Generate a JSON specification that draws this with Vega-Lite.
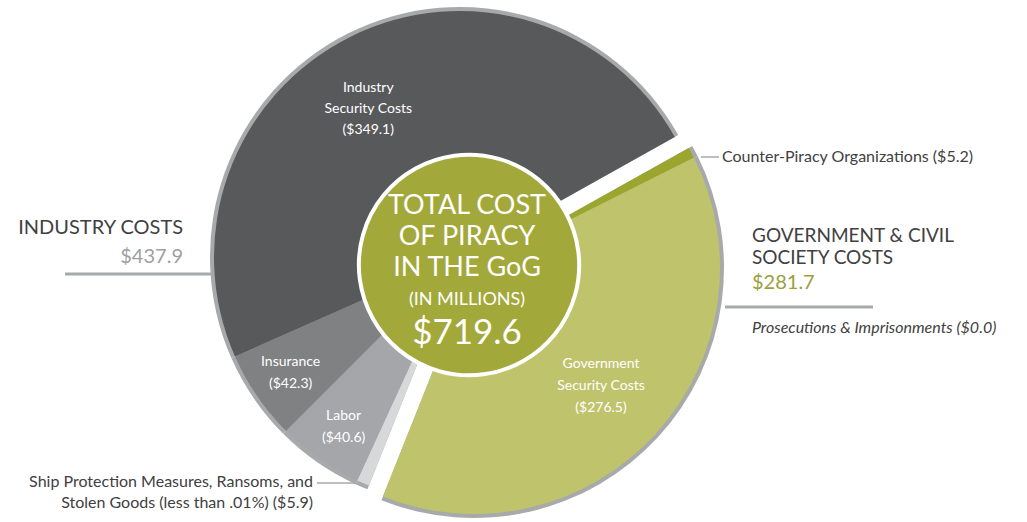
{
  "$schema": "https://vega.github.io/schema/vega-lite/v6.json",
  "width": 934,
  "height": 522,
  "autosize": {"type": "none"},
  "padding": {"left": 0, "top": 0, "right": 93, "bottom": 0},
  "background": "white",
  "config": {"view": {"stroke": null}, "font": "Lato", "text": {"font": "Lato"}},
  "data": {
    "values": [
      {"category": "Counter-Piracy Organizations", "group": "Government", "groupLabel": "GOVERNMENT & CIVIL\nSOCIETY COSTS", "value": 5.2, "order": 1, "label": "Counter-Piracy Organizations ($5.2)"},
      {"category": "Government Security Costs", "group": "Government", "groupLabel": "GOVERNMENT & CIVIL\nSOCIETY COSTS", "value": 276.5, "order": 2, "label": "Government\nSecurity Costs\n($276.5)"},
      {"category": "Prosecutions & Imprisonments", "group": "Government", "groupLabel": "GOVERNMENT & CIVIL\nSOCIETY COSTS", "value": 0.0, "order": 3, "label": "Prosecutions & Imprisonments ($0.0)"},
      {"category": "Ship Protection Measures, Ransoms, and Stolen Goods", "group": "Industry", "groupLabel": "INDUSTRY COSTS", "value": 5.9, "order": 4, "label": "Ship Protection Measures, Ransoms, and\nStolen Goods (less than .01%) ($5.9)"},
      {"category": "Labor", "group": "Industry", "groupLabel": "INDUSTRY COSTS", "value": 40.6, "order": 5, "label": "Labor\n($40.6)"},
      {"category": "Insurance", "group": "Industry", "groupLabel": "INDUSTRY COSTS", "value": 42.3, "order": 6, "label": "Insurance\n($42.3)"},
      {"category": "Industry Security Costs", "group": "Industry", "groupLabel": "INDUSTRY COSTS", "value": 349.1, "order": 7, "label": "Industry\nSecurity Costs\n($349.1)"}
    ]
  },
  "transform": [
    {"stack": "value", "groupby": [], "sort": [{"field": "order", "order": "ascending"}], "as": ["v0", "v1"]}
  ],
  "layer": [
    {
      "transform": [{"filter": "datum.group === 'Industry'"}],
      "mark": {"type": "arc", "radius": 250, "xOffset": -7, "yOffset": -4, "fill": "#a8a9ab"},
      "encoding": {
        "theta": {"field": "v0", "type": "quantitative", "scale": {"domain": [0, 719.6], "range": [1.0612, 7.3444]}},
        "theta2": {"field": "v1"}
      }
    },
    {
      "transform": [{"filter": "datum.group === 'Government'"}],
      "mark": {"type": "arc", "radius": 250, "xOffset": 7, "yOffset": 7, "fill": "#a8a9ab"},
      "encoding": {
        "theta": {"field": "v0", "type": "quantitative", "scale": {"domain": [0, 719.6], "range": [1.0612, 7.3444]}},
        "theta2": {"field": "v1"}
      }
    },
    {
      "transform": [{"filter": "datum.group === 'Industry'"}],
      "mark": {"type": "arc", "radius": 246, "xOffset": -7, "yOffset": -4},
      "encoding": {
        "theta": {"field": "v0", "type": "quantitative", "scale": {"domain": [0, 719.6], "range": [1.0612, 7.3444]}},
        "theta2": {"field": "v1"},
        "color": {"field": "category", "type": "nominal", "legend": null,
          "scale": {"domain": ["Counter-Piracy Organizations", "Government Security Costs", "Prosecutions & Imprisonments", "Ship Protection Measures, Ransoms, and Stolen Goods", "Labor", "Insurance", "Industry Security Costs"],
                    "range": ["#9ba62e", "#bfc46c", "#7d8a2e", "#d7d8da", "#a5a6a9", "#808183", "#58595b"]}}
      }
    },
    {
      "transform": [{"filter": "datum.group === 'Government'"}],
      "mark": {"type": "arc", "radius": 246, "xOffset": 7, "yOffset": 7},
      "encoding": {
        "theta": {"field": "v0", "type": "quantitative", "scale": {"domain": [0, 719.6], "range": [1.0612, 7.3444]}},
        "theta2": {"field": "v1"},
        "color": {"field": "category", "type": "nominal", "legend": null}
      }
    },
    {
      "transform": [{"aggregate": [{"op": "sum", "field": "value", "as": "total"}]}],
      "mark": {"type": "arc", "radius": 110, "xOffset": 2, "yOffset": 4, "fill": "#a3a83a", "stroke": "white", "strokeWidth": 4},
      "encoding": {
        "theta": {"field": "total", "type": "quantitative", "scale": {"domain": [0, 719.6], "range": [1.0612, 7.3444]}}
      }
    },
    {
      "transform": [{"aggregate": [{"op": "sum", "field": "value", "as": "total"}]}],
      "mark": {"type": "text", "text": ["TOTAL COST", "OF PIRACY", "IN THE GoG"], "fontSize": 27, "lineHeight": 31, "dy": -55, "color": "white", "align": "center", "baseline": "middle"},
      "encoding": {}
    },
    {
      "transform": [{"aggregate": [{"op": "sum", "field": "value", "as": "total"}]}],
      "mark": {"type": "text", "text": "(IN MILLIONS)", "fontSize": 18, "dy": 39, "color": "white", "align": "center", "baseline": "middle"},
      "encoding": {}
    },
    {
      "transform": [{"aggregate": [{"op": "sum", "field": "value", "as": "total"}]}],
      "mark": {"type": "text", "fontSize": 35, "dy": 72, "color": "white", "align": "center", "baseline": "middle"},
      "encoding": {"text": {"field": "total", "type": "quantitative", "format": "$.1f"}}
    },
    {
      "mark": {"type": "text", "radius": 185, "thetaOffset": -0.1, "dy": -17, "fontSize": 14, "lineHeight": 21, "lineBreak": "\n", "color": "white", "align": "center", "baseline": "middle"},
      "encoding": {
        "theta": {"field": "value", "type": "quantitative", "stack": true, "scale": {"domain": [0, 719.6], "range": [1.0612, 7.3444]}},
        "order": {"field": "order", "type": "quantitative"},
        "text": {"condition": {"test": "datum.category !== 'Industry Security Costs'", "value": ""}, "field": "label"}
      }
    },
    {
      "mark": {"type": "text", "radius": 182, "dy": -20, "fontSize": 14, "lineHeight": 22, "lineBreak": "\n", "color": "white", "align": "center", "baseline": "middle"},
      "encoding": {
        "theta": {"field": "value", "type": "quantitative", "stack": true, "scale": {"domain": [0, 719.6], "range": [1.0612, 7.3444]}},
        "order": {"field": "order", "type": "quantitative"},
        "text": {"condition": {"test": "datum.category !== 'Government Security Costs'", "value": ""}, "field": "label"}
      }
    },
    {
      "mark": {"type": "text", "radius": 209, "xOffset": -4, "yOffset": -4, "dy": -13, "fontSize": 14, "lineHeight": 22, "lineBreak": "\n", "color": "white", "align": "center", "baseline": "middle"},
      "encoding": {
        "theta": {"field": "value", "type": "quantitative", "stack": true, "scale": {"domain": [0, 719.6], "range": [1.0612, 7.3444]}},
        "order": {"field": "order", "type": "quantitative"},
        "text": {"condition": {"test": "datum.category !== 'Labor' && datum.category !== 'Insurance'", "value": ""}, "field": "label"}
      }
    },
    {
      "transform": [{"filter": "datum.category === 'Counter-Piracy Organizations'"}],
      "mark": {"type": "text", "align": "left", "baseline": "middle", "dx": 255, "dy": -104, "fontSize": 16, "color": "#414042"},
      "encoding": {"text": {"field": "label"}}
    },
    {
      "transform": [{"filter": "datum.category === 'Ship Protection Measures, Ransoms, and Stolen Goods'"}],
      "mark": {"type": "text", "align": "right", "baseline": "middle", "dx": -154, "dy": 221, "fontSize": 16, "lineHeight": 21, "lineBreak": "\n", "color": "#414042"},
      "encoding": {"text": {"field": "label"}}
    },
    {
      "transform": [{"filter": "datum.category === 'Prosecutions & Imprisonments'"}],
      "mark": {"type": "text", "align": "left", "baseline": "middle", "dx": 285, "dy": 67, "fontSize": 16, "fontStyle": "italic", "color": "#414042"},
      "encoding": {"text": {"field": "label"}}
    },
    {
      "transform": [
        {"aggregate": [{"op": "sum", "field": "value", "as": "total"}], "groupby": ["group", "groupLabel"]},
        {"filter": "datum.group === 'Industry'"}
      ],
      "mark": {"type": "text", "align": "right", "baseline": "middle", "dx": -284, "dy": -33, "fontSize": 20, "color": "#414042"},
      "encoding": {"text": {"field": "groupLabel"}}
    },
    {
      "transform": [
        {"aggregate": [{"op": "sum", "field": "value", "as": "total"}], "groupby": ["group", "groupLabel"]},
        {"filter": "datum.group === 'Industry'"}
      ],
      "mark": {"type": "text", "align": "right", "baseline": "middle", "dx": -284, "dy": -4, "fontSize": 20, "color": "#9d9fa2"},
      "encoding": {"text": {"field": "total", "type": "quantitative", "format": "$.1f"}}
    },
    {
      "transform": [
        {"aggregate": [{"op": "sum", "field": "value", "as": "total"}], "groupby": ["group", "groupLabel"]},
        {"filter": "datum.group === 'Government'"}
      ],
      "mark": {"type": "text", "align": "left", "baseline": "middle", "dx": 285, "dy": -25, "fontSize": 19, "lineHeight": 22, "lineBreak": "\n", "color": "#414042"},
      "encoding": {"text": {"field": "groupLabel"}}
    },
    {
      "transform": [
        {"aggregate": [{"op": "sum", "field": "value", "as": "total"}], "groupby": ["group", "groupLabel"]},
        {"filter": "datum.group === 'Government'"}
      ],
      "mark": {"type": "text", "align": "left", "baseline": "middle", "dx": 285, "dy": 22, "fontSize": 20, "color": "#9aa13a"},
      "encoding": {"text": {"field": "total", "type": "quantitative", "format": "$.1f"}}
    },
    {
      "transform": [{"filter": "datum.category === 'Industry Security Costs'"}],
      "mark": {"type": "arc", "theta": 4.71239, "theta2": 4.71239, "radius": 402, "radius2": 254, "yOffset": 13, "filled": false, "color": "#a7a9ac", "strokeWidth": 3},
      "encoding": {}
    },
    {
      "transform": [{"filter": "datum.category === 'Government Security Costs'"}],
      "mark": {"type": "arc", "theta": 1.5708, "theta2": 1.5708, "radius": 406, "radius2": 258, "yOffset": 46, "filled": false, "color": "#a7a9ac", "strokeWidth": 3},
      "encoding": {}
    },
    {
      "transform": [{"filter": "datum.category === 'Counter-Piracy Organizations'"}],
      "mark": {"type": "arc", "theta": 1.5708, "theta2": 1.5708, "radius": 252, "radius2": 234, "yOffset": -104, "filled": false, "color": "#a7a9ac", "strokeWidth": 1.5},
      "encoding": {}
    },
    {
      "transform": [{"filter": "datum.category === 'Ship Protection Measures, Ransoms, and Stolen Goods'"}],
      "mark": {"type": "arc", "theta": 4.71239, "theta2": 4.71239, "radius": 150, "radius2": 106, "yOffset": 222, "filled": false, "color": "#a7a9ac", "strokeWidth": 1.5},
      "encoding": {}
    }
  ]
}
